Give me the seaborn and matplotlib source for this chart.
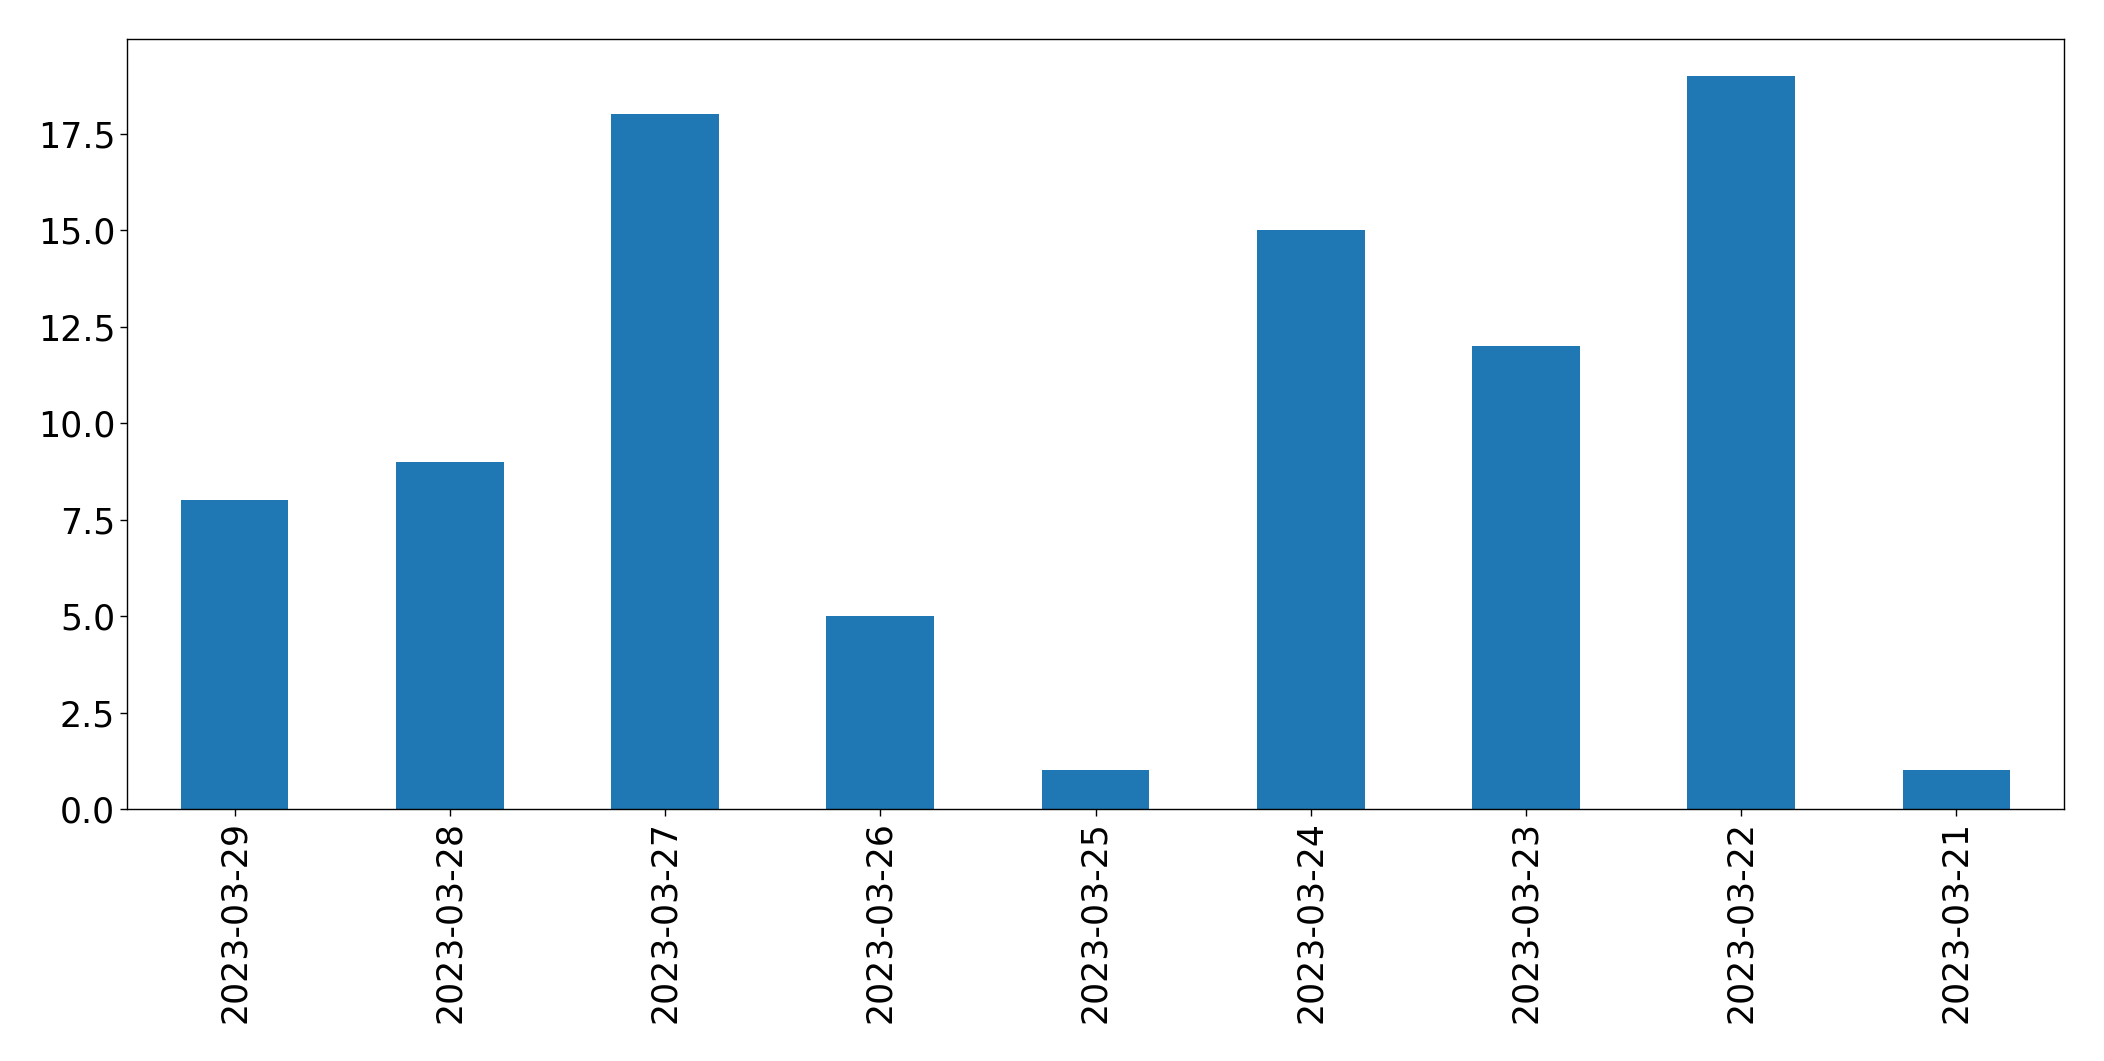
import matplotlib
matplotlib.use('Agg')
import matplotlib.pyplot as plt
import seaborn as sns
import pandas as pd

# Data
dates = ['2023-03-29', '2023-03-28', '2023-03-27', '2023-03-26', '2023-03-25',
         '2023-03-24', '2023-03-23', '2023-03-22', '2023-03-21']
counts = [8, 9, 18, 5, 1, 15, 12, 19, 1]

df = pd.DataFrame({'date': dates, 'count': counts})

sns.set_style('ticks', {'text.color': 'black', 'xtick.color': 'black',
                        'ytick.color': 'black', 'axes.edgecolor': 'black'})
plt.rcParams['font.family'] = ['DejaVu Sans']

fig = plt.figure(figsize=(21.04, 10.61), dpi=100)
ax = fig.add_axes([127 / 2104, 1 - 809 / 1061, (2064 - 127) / 2104, (809 - 39) / 1061])

sns.barplot(data=df, x='date', y='count', order=dates, color='#1f77b4',
            saturation=1, width=0.5, linewidth=0, ax=ax)

ax.set_xlim(-0.5, len(dates) - 0.5)
ax.set_ylim(0, max(counts) * 1.05)
ax.set_xlabel('')
ax.set_ylabel('')
ax.tick_params(axis='both', labelsize=25, length=5, width=1,
               colors='black', labelcolor='black')
plt.setp(ax.get_xticklabels(), rotation=90)
for s in ax.spines.values():
    s.set_linewidth(1)
    s.set_color('black')

fig.savefig('out.png', dpi=100, facecolor='white')
